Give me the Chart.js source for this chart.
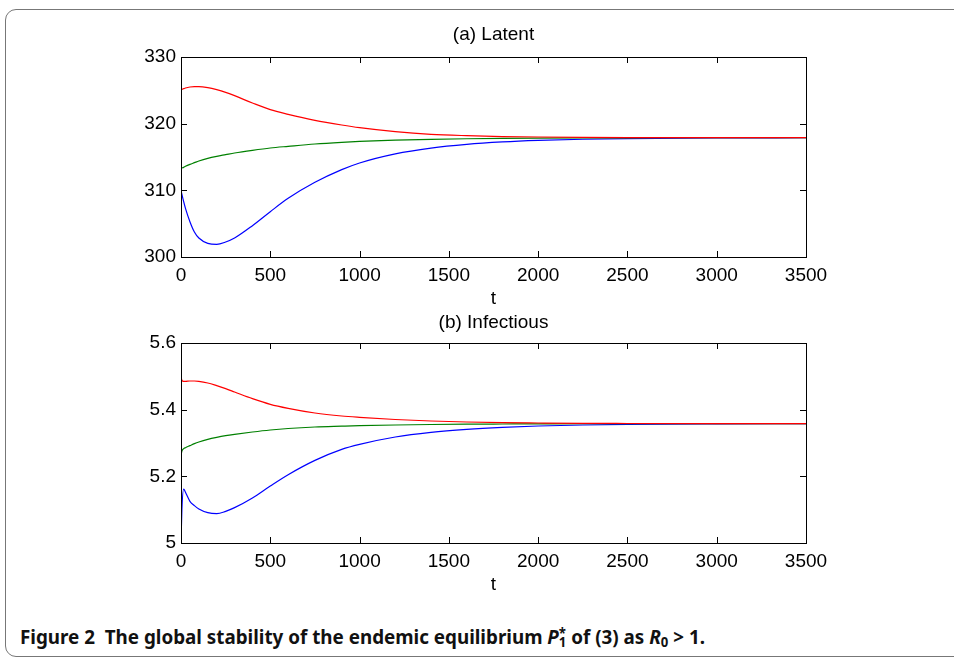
<!DOCTYPE html>
<html>
<head>
<meta charset="utf-8">
<script src="https://cdn.jsdelivr.net/npm/chart.js@4.4.1/dist/chart.umd.min.js"></script>
<style>
  html, body { margin: 0; padding: 0; background: #fff; width: 954px; height: 658px; overflow: hidden; }
  #frame { position: absolute; left: 5px; top: 9px; width: 1000px; height: 646px; border: 1.5px solid #777; border-radius: 11px; }
  canvas { position: absolute; left: 0; }
  #latent { top: 0; }
  #infectious { top: 306px; }
  #caption { position: absolute; left: 20px; top: 624px; font: bold 19px "Noto Sans", sans-serif; color: #111; white-space: nowrap; transform-origin: 0 50%; }
  #caption i { font-style: italic; }
  .supsub { display: inline-block; vertical-align: -0.25em; line-height: 0.7; font-size: 0.7em; text-align: left; }
  .sub0 { font-size: 0.7em; vertical-align: -0.25em; }
</style>
</head>
<body>
<div id="frame"></div>
<canvas id="latent" width="954" height="312"></canvas>
<canvas id="infectious" width="954" height="304"></canvas>
<div id="caption">Figure 2&nbsp; The global stability of the endemic equilibrium <i>P</i><span class="supsub">*<br>1</span> of (3) as <i>R</i><span class="sub0">0</span> &gt; 1.</div>
<script>
const t = [0, 5, 15, 25, 50, 75, 100, 150, 200, 250, 300, 400, 500, 600, 750, 900, 1000, 1200, 1400, 1600, 1800, 2000, 2250, 2500, 3000, 3500]

// (a) Latent
const latentRed = [325.1, 325.15, 325.25, 325.35, 325.5, 325.55, 325.55, 325.4, 325.1, 324.7, 324.2, 323.1, 322.1, 321.4, 320.5, 319.8, 319.4, 318.8, 318.4, 318.2, 318.07, 318.0, 317.95, 317.92, 317.9, 317.9]
const latentGreen = [313.3, 313.35, 313.45, 313.6, 313.9, 314.15, 314.4, 314.8, 315.1, 315.35, 315.6, 316.0, 316.35, 316.6, 316.95, 317.2, 317.33, 317.52, 317.65, 317.74, 317.8, 317.84, 317.87, 317.88, 317.9, 317.9]
const latentBlue = [310.0, 309.4, 308.3, 307.3, 305.3, 303.75, 302.85, 302.05, 301.9, 302.25, 302.85, 304.7, 306.8, 308.8, 311.2, 313.1, 314.1, 315.47, 316.34, 316.9, 317.26, 317.49, 317.66, 317.76, 317.86, 317.89]

// (b) Infectious
const infRed = [5.498, 5.488, 5.485, 5.485, 5.486, 5.486, 5.485, 5.48, 5.472, 5.463, 5.453, 5.433, 5.416, 5.404, 5.39, 5.381, 5.377, 5.3705, 5.366, 5.363, 5.361, 5.36, 5.359, 5.3585, 5.358, 5.358]
const infGreen = [5.263, 5.276, 5.283, 5.286, 5.292, 5.298, 5.303, 5.311, 5.317, 5.322, 5.326, 5.333, 5.339, 5.3435, 5.348, 5.3505, 5.352, 5.354, 5.3555, 5.3565, 5.357, 5.3574, 5.3577, 5.3579, 5.358, 5.358]
const infBlue = [5.0, 5.1, 5.162, 5.152, 5.125, 5.112, 5.102, 5.091, 5.088, 5.095, 5.106, 5.135, 5.171, 5.205, 5.248, 5.281, 5.296, 5.318, 5.332, 5.341, 5.347, 5.351, 5.354, 5.356, 5.3575, 5.358]

const xTicks = [0, 500, 1000, 1500, 2000, 2500, 3000, 3500]
const latentTicks = [300, 310, 320, 330]
const infTicks = [5, 5.2, 5.4, 5.6]

const font = { family: "'Liberation Sans', Arial, sans-serif", size: 19 }

// MATLAB-like box with inward ticks on all four sides
const boxTicks = {
  id: "boxTicks",
  afterDatasetsDraw(chart) {
    const { ctx, chartArea: a, scales: { x, y } } = chart
    ctx.save()
    ctx.strokeStyle = "#000"
    ctx.lineWidth = 1
    ctx.beginPath()
    x.ticks.forEach((tk) => {
      const px = Math.round(x.getPixelForValue(tk.value)) + 0.5
      ctx.moveTo(px, a.bottom)
      ctx.lineTo(px, a.bottom - 6)
      ctx.moveTo(px, a.top)
      ctx.lineTo(px, a.top + 6)
    })
    y.ticks.forEach((tk) => {
      const py = Math.round(y.getPixelForValue(tk.value)) + 0.5
      ctx.moveTo(a.left, py)
      ctx.lineTo(a.left + 6, py)
      ctx.moveTo(a.right, py)
      ctx.lineTo(a.right - 6, py)
    })
    ctx.stroke()
    ctx.strokeRect(Math.round(a.left) + 0.5, Math.round(a.top) + 0.5, Math.round(a.right - a.left), Math.round(a.bottom - a.top))
    ctx.restore()
  },
}

const series = (ys) => t.map((v, i) => ({ x: v, y: ys[i] }))

const makeChart = (id, title, red, green, blue, yTicks, pad) => {
  const ds = (label, ys, color) => ({
    label,
    data: series(ys),
    borderColor: color,
    borderWidth: 1.2,
    pointRadius: 0,
    fill: false,
    cubicInterpolationMode: "monotone",
  })
  const xMin = xTicks[0]
  const xMax = xTicks[xTicks.length - 1]
  return new Chart(document.getElementById(id).getContext("2d"), {
    type: "line",
    data: {
      datasets: [ds("red", red, "#ff0000"), ds("green", green, "#008000"), ds("blue", blue, "#0000ff")],
    },
    options: {
      responsive: false,
      animation: false,
      layout: { padding: { left: 0, right: 148, top: 0, bottom: 0 } },
      plugins: {
        legend: { display: false },
        tooltip: { enabled: false },
      },
      scales: {
        x: {
          type: "linear",
          min: xMin,
          max: xMax,
          grid: { display: false, drawTicks: false },
          border: { display: false },
          afterBuildTicks: (s) => { s.ticks = xTicks.map((v) => ({ value: v })) },
          afterFit: (s) => { s.height = pad.xHeight },
          ticks: { color: "#000", font, padding: 7, maxRotation: 0, callback: (v) => String(v) },
          title: { display: true, text: "t", color: "#000", font, padding: { top: 0, bottom: pad.tBottom } },
        },
        // top axis only carries the panel title, centred over the plot box
        x2: {
          type: "linear",
          position: "top",
          min: xMin,
          max: xMax,
          grid: { display: false, drawTicks: false },
          border: { display: false },
          ticks: { display: false },
          afterFit: (s) => { s.height = pad.topHeight },
          title: { display: true, text: title, color: "#000", font, padding: { top: pad.titleTop, bottom: 0 } },
        },
        y: {
          min: yTicks[0],
          max: yTicks[yTicks.length - 1],
          grid: { display: false, drawTicks: false },
          border: { display: false },
          afterBuildTicks: (s) => { s.ticks = yTicks.map((v) => ({ value: v })) },
          afterFit: (s) => { s.width = 181 },
          ticks: { color: "#000", font, padding: 5, callback: (v) => String(v) },
        },
      },
    },
    plugins: [boxTicks],
  })
}

makeChart("latent", "(a) Latent", latentRed, latentGreen, latentBlue, latentTicks, { topHeight: 57, titleTop: 23.6, xHeight: 55, tBottom: 1.6 })
makeChart("infectious", "(b) Infectious", infRed, infGreen, infBlue, infTicks, { topHeight: 37, titleTop: 5.6, xHeight: 67, tBottom: 13.6 })

// squeeze the caption to the width of the original typeset line
const cap = document.getElementById("caption")
const w = cap.getBoundingClientRect().width
cap.style.transform = "scaleX(" + (685 / w) + ")"
</script>
</body>
</html>
